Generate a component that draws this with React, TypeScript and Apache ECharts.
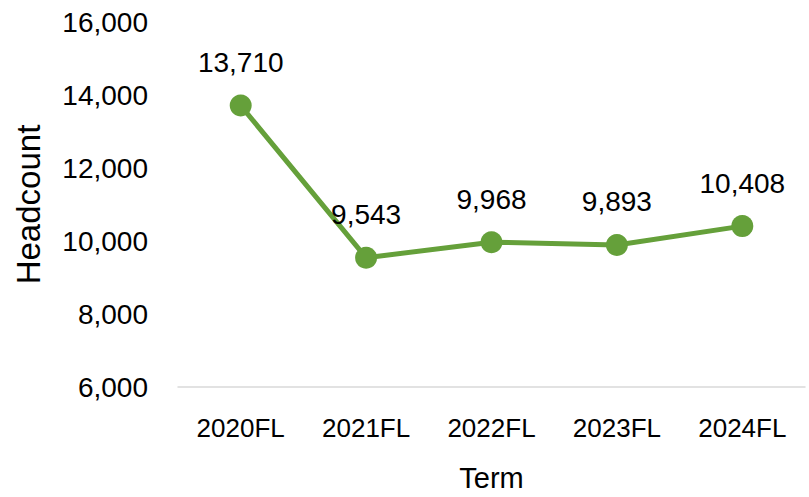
import React, { useEffect, useRef } from "react";
import * as echarts from "echarts";

const terms = ["2020FL", "2021FL", "2022FL", "2023FL", "2024FL"];
const headcount = [13710, 9543, 9968, 9893, 10408];
const yMin = 6000;
const yMax = 16000;
const yStep = 2000;

const FONT = "Liberation Sans";

export default function App() {
  const ref = useRef<HTMLDivElement>(null);
  useEffect(() => {
    document.body.style.margin = "0";
    if (!ref.current) return;
    const chart = echarts.init(ref.current, null, { renderer: "svg" });
    const fmt = (v: number) => v.toLocaleString("en-US");
    chart.setOption({
      animation: false,
      backgroundColor: "#ffffff",
      textStyle: { fontFamily: FONT },
      grid: { left: 178, right: 4, top: 22, bottom: 110, containLabel: false },
      xAxis: {
        type: "category",
        data: terms,
        boundaryGap: true,
        name: "Term",
        nameLocation: "middle",
        nameGap: 76,
        nameTextStyle: { fontSize: 29, color: "#000", fontFamily: FONT },
        axisLine: { show: true, lineStyle: { color: "#d9d9d9", width: 1.5 } },
        axisTick: { show: false },
        axisLabel: { fontSize: 26, color: "#000", margin: 28, fontFamily: FONT },
      },
      yAxis: {
        type: "value",
        min: yMin,
        max: yMax,
        interval: yStep,
        name: "Headcount",
        nameLocation: "middle",
        nameGap: 133,
        nameTextStyle: { fontSize: 33, color: "#000", fontFamily: FONT },
        axisLine: { show: false },
        axisTick: { show: false },
        splitLine: { show: false },
        axisLabel: {
          fontSize: 28,
          color: "#000",
          margin: 30,
          fontFamily: FONT,
          formatter: (v: number) => fmt(v),
        },
      },
      series: [
        {
          type: "line",
          data: headcount,
          symbol: "circle",
          symbolSize: 22,
          lineStyle: { color: "#65A03A", width: 5 },
          itemStyle: { color: "#65A03A" },
          label: {
            show: true,
            position: "top",
            distance: 18,
            fontSize: 28,
            color: "#000",
            fontFamily: FONT,
            formatter: (p: any) => fmt(p.value),
          },
        },
      ],
    });
    return () => chart.dispose();
  }, []);
  return <div ref={ref} style={{ width: 809, height: 497 }} />;
}
